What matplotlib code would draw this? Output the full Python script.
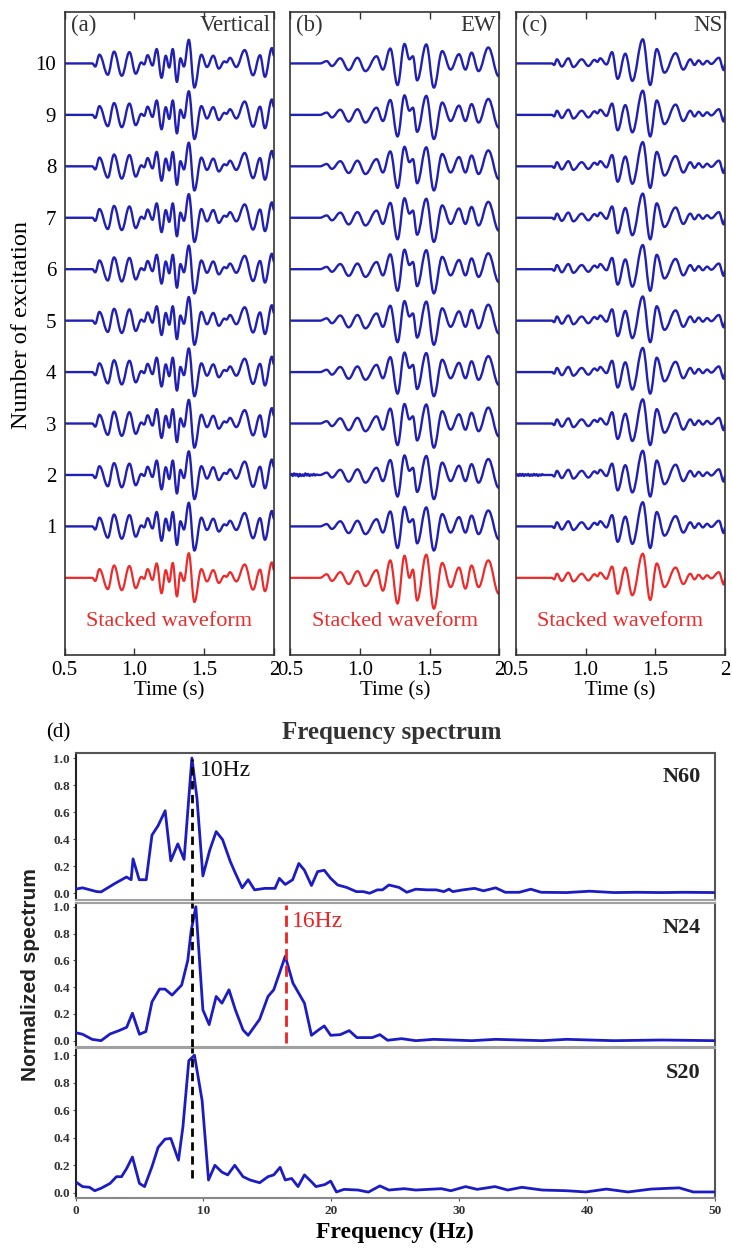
import matplotlib
matplotlib.use("Agg")
import matplotlib.pyplot as plt
from matplotlib.path import Path
from matplotlib.patches import PathPatch

SERIF = ['Liberation Serif', 'DejaVu Serif']
SANS = ['Liberation Sans', 'DejaVu Sans']

# ---------------- waveform data (extrema: time s, amplitude) ----------------
EXCITATIONS = [1, 2, 3, 4, 5, 6, 7, 8, 9, 10]
COMPONENTS = ['Vertical', 'EW', 'NS']
PANEL_TAGS = ['(a)', '(b)', '(c)']

VERT_T = [0.50, 0.70, 0.72, 0.75, 0.81, 0.855, 0.91, 0.965, 1.01, 1.05, 1.07, 1.095, 1.13, 1.16,
          1.195, 1.225, 1.25, 1.275, 1.305, 1.33, 1.355, 1.39, 1.43, 1.48, 1.52, 1.565, 1.605,
          1.645, 1.66, 1.685, 1.73, 1.79, 1.85, 1.90, 1.935, 1.985, 2.0]
VERT_A = [0.0, 0.0, -0.06, 0.17, -0.22, 0.23, -0.24, 0.22, -0.20, 0.02, -0.02, 0.16, -0.04, 0.28,
          -0.28, 0.15, -0.08, 0.28, -0.36, 0.10, -0.06, 0.46, -0.47, 0.17, -0.07, 0.15, -0.10,
          0.04, 0.02, 0.11, -0.07, 0.26, -0.23, 0.16, -0.26, 0.30, 0.15]
VERT_STACK_A = [0.0, 0.0, -0.06, 0.17, -0.22, 0.24, -0.24, 0.23, -0.20, 0.02, -0.02, 0.17, -0.04, 0.28,
                -0.30, 0.15, -0.08, 0.29, -0.36, 0.10, -0.06, 0.48, -0.47, 0.17, -0.07, 0.15, -0.10,
                0.04, 0.02, 0.11, -0.07, 0.26, -0.23, 0.16, -0.26, 0.30, 0.15]

EW_T = [0.50, 0.715, 0.763, 0.80, 0.86, 0.92, 0.983, 1.04, 1.12, 1.165, 1.218, 1.27, 1.32, 1.355,
        1.38, 1.41, 1.476, 1.53, 1.59, 1.65, 1.71, 1.756, 1.80, 1.85, 1.92, 1.995, 2.0]
EW_A = [0.0, 0.0, 0.045, -0.05, 0.10, -0.13, 0.11, -0.15, 0.14, -0.12, 0.29, -0.42, 0.38, 0.08,
        0.14, -0.33, 0.37, -0.47, 0.24, -0.12, 0.18, -0.12, 0.21, -0.15, 0.31, -0.25, -0.22]
EW_STACK_A = [0.0, 0.0, 0.07, -0.06, 0.11, -0.12, 0.13, -0.16, 0.15, -0.25, 0.34, -0.50, 0.43, 0.0,
              0.16, -0.44, 0.45, -0.60, 0.29, -0.18, 0.20, -0.21, 0.24, -0.18, 0.34, -0.31, -0.28]

NS_T = [0.50, 0.76, 0.775, 0.795, 0.83, 0.877, 0.913, 0.973, 1.02, 1.065, 1.085, 1.105, 1.15, 1.19,
        1.23, 1.285, 1.335, 1.41, 1.463, 1.51, 1.565, 1.645, 1.70, 1.75, 1.78, 1.81, 1.84, 1.87,
        1.90, 1.955, 1.99, 2.0]
NS_A = [0.0, 0.0, -0.03, 0.08, -0.06, 0.10, -0.07, 0.08, -0.05, 0.07, 0.03, 0.10, -0.02, 0.22,
        -0.30, 0.19, -0.34, 0.47, -0.42, 0.28, -0.18, 0.20, -0.12, 0.08, -0.03, 0.06, -0.02, 0.05,
        -0.01, 0.11, -0.13, -0.02]
NS_STACK_A = [0.0, 0.0, -0.03, 0.08, -0.06, 0.10, -0.07, 0.08, -0.05, 0.07, 0.03, 0.10, -0.02, 0.22,
              -0.31, 0.20, -0.34, 0.47, -0.43, 0.28, -0.18, 0.20, -0.12, 0.08, -0.03, 0.06, -0.02, 0.05,
              -0.01, 0.11, -0.13, -0.02]

# pre-event noise seen on excitation 2 (EW and NS)
NOISE_T = [0.50, 0.51, 0.52, 0.53, 0.54, 0.55, 0.56, 0.57, 0.58, 0.59, 0.60, 0.61, 0.62, 0.63,
           0.64, 0.65, 0.66, 0.67, 0.68, 0.69, 0.70]
NOISE_EW = [0.0, 0.02, -0.02, 0.03, -0.01, 0.02, -0.03, 0.02, -0.02, 0.01, -0.02, 0.03, -0.01,
            0.02, -0.02, 0.01, -0.01, 0.02, -0.01, 0.01, 0.0]
NOISE_NS = [0.0, 0.015, -0.02, 0.02, -0.015, 0.02, -0.02, 0.015, -0.01, 0.02, -0.02, 0.01, -0.015,
            0.02, -0.01, 0.015, -0.02, 0.01, -0.01, 0.015, 0.0]

TIME_TICKS = [0.5, 1.0, 1.5, 2.0]
TIME_TICK_LABELS = ['0.5', '1.0', '1.5', '2']

# ---------------- spectrum data ----------------
N60_F = [0, 0.55, 1.66, 2.0, 3.13, 3.61, 3.98, 4.35, 4.5, 4.98, 5.53, 5.98, 6.46, 7.01, 7.45, 8.0,
         8.49, 9.1, 9.5, 9.96, 10.5, 11.0, 11.5, 12.1, 12.5, 13.03, 13.5, 14.0, 14.8, 15.6, 15.94,
         16.4, 16.98, 17.46, 17.9, 18.45, 18.93, 19.45, 19.95, 20.5, 21.2, 21.96, 22.5, 23.0,
         23.6, 24.0, 24.5, 25.3, 25.9, 26.6, 27.5, 28.2, 28.8, 29.2, 29.5, 30.3, 31.2, 31.9,
         32.85, 33.6, 34.7, 35.6, 36.4, 38.4, 40.2, 42.1, 43.9, 45.8, 47.6, 50]
N60_V = [0.03, 0.04, 0.012, 0.01, 0.075, 0.10, 0.12, 0.10, 0.254, 0.10, 0.10, 0.43, 0.50, 0.61,
         0.24, 0.365, 0.25, 1.0, 0.70, 0.128, 0.32, 0.456, 0.396, 0.235, 0.148, 0.04, 0.10, 0.025,
         0.036, 0.036, 0.11, 0.065, 0.10, 0.22, 0.17, 0.057, 0.16, 0.17, 0.11, 0.061, 0.043, 0.012,
         0.012, 0.0, 0.025, 0.025, 0.061, 0.043, 0.007, 0.03, 0.025, 0.025, 0.012, 0.03, 0.012,
         0.025, 0.036, 0.018, 0.04, 0.007, 0.007, 0.03, 0.007, 0.005, 0.015, 0.005, 0.007, 0.005,
         0.007, 0.005]

N24_F = [0, 0.55, 1.3, 2.0, 2.7, 3.4, 4.0, 4.45, 5.0, 5.5, 5.98, 6.57, 7.0, 7.55, 8.3, 8.78, 9.04,
         9.41, 9.96, 10.45, 11.0, 11.45, 12.0, 12.5, 13.1, 13.5, 14.4, 15.05, 15.5, 16.4, 17.0,
         17.9, 18.45, 19.0, 19.45, 19.95, 20.7, 21.4, 22.0, 23.2, 23.8, 24.4, 25.5, 26.6, 28.0,
         29.5, 31.0, 32.85, 34.7, 36.5, 38.4, 40.2, 42.1, 45.8, 50]
N24_V = [0.06, 0.048, 0.01, 0.0, 0.05, 0.075, 0.10, 0.205, 0.048, 0.068, 0.29, 0.385, 0.385, 0.34,
         0.415, 0.60, 0.82, 1.0, 0.23, 0.12, 0.33, 0.28, 0.38, 0.23, 0.08, 0.04, 0.16, 0.33, 0.38,
         0.63, 0.43, 0.28, 0.04, 0.08, 0.11, 0.04, 0.045, 0.075, 0.023, 0.023, 0.045, 0.003, 0.015,
         0.0, 0.01, 0.005, 0.0, 0.01, 0.005, 0.0, 0.01, 0.005, 0.0, 0.005, 0.0]

S20_F = [0, 0.55, 1.1, 1.5, 2.0, 2.7, 3.2, 3.6, 4.0, 4.45, 5.0, 5.4, 5.98, 6.46, 7.0, 7.45, 8.05,
         8.4, 8.86, 9.3, 9.9, 10.4, 10.9, 11.45, 11.9, 12.45, 13.1, 13.65, 14.4, 15.05, 15.5, 16.0,
         16.4, 16.9, 17.4, 17.9, 18.45, 18.8, 19.5, 19.95, 20.4, 21.0, 22.1, 22.9, 23.8, 24.5,
         25.7, 26.6, 28.6, 29.35, 30.5, 31.4, 32.8, 33.8, 34.9, 36.5, 38.4, 39.9, 41.5, 43.2,
         45.0, 47.2, 48.3, 50]
S20_V = [0.08, 0.045, 0.04, 0.015, 0.033, 0.068, 0.117, 0.117, 0.177, 0.26, 0.068, 0.045, 0.19,
         0.33, 0.39, 0.395, 0.237, 0.48, 0.96, 1.0, 0.67, 0.093, 0.20, 0.15, 0.13, 0.20, 0.117,
         0.093, 0.073, 0.117, 0.13, 0.185, 0.093, 0.104, 0.045, 0.13, 0.08, 0.045, 0.06, 0.085,
         0.006, 0.025, 0.02, 0.005, 0.05, 0.02, 0.03, 0.02, 0.03, 0.015, 0.045, 0.025, 0.045, 0.02,
         0.04, 0.02, 0.015, 0.006, 0.027, 0.006, 0.027, 0.036, 0.006, 0.006]

SPEC_NAMES = ['N60', 'N24', 'S20']
PEAK_MAIN = 9.12      # Hz (marked 10Hz)
PEAK_SECOND = 16.42   # Hz (marked 16Hz)

BLUE = '#2020b4'
RED = '#ee2a2a'

fig = plt.figure(figsize=(7.32, 12.48), dpi=100)
W, H = 732.0, 1248.0


def fx(px):
    return px / W


def fy(py):
    return 1 - py / H


def wave_patch(ts, amps, base, color, lw):
    verts = [(ts[0], base + amps[0])]
    codes = [Path.MOVETO]
    for t0, a0, t1, a1 in zip(ts[:-1], amps[:-1], ts[1:], amps[1:]):
        d = (t1 - t0) * 0.38
        verts += [(t0 + d, base + a0), (t1 - d, base + a1), (t1, base + a1)]
        codes += [Path.CURVE4] * 3
    return PathPatch(Path(verts, codes), fill=False, edgecolor=color, lw=lw,
                     capstyle='round', joinstyle='round')


panel_lefts = [64.5, 290.0, 515.7]
panel_width = 209.5
top_px, bot_px = 12.0, 655.0

series = [(VERT_T, VERT_A, VERT_STACK_A, None),
          (EW_T, EW_A, EW_STACK_A, NOISE_EW),
          (NS_T, NS_A, NS_STACK_A, NOISE_NS)]

for i, (left, comp, tag, (ts, amps, st_amps, noise)) in enumerate(
        zip(panel_lefts, COMPONENTS, PANEL_TAGS, series)):
    ax = fig.add_axes([fx(left), fy(bot_px), panel_width / W, (bot_px - top_px) / H])
    ax.set_xlim(0.5, 2.0)
    ax.set_ylim(-1.5, 11.0)
    for n in EXCITATIONS:
        if n == 2 and noise is not None:
            tt = list(NOISE_T) + [t for t in ts if t > NOISE_T[-1]]
            aa = list(noise) + [a for t, a in zip(ts, amps) if t > NOISE_T[-1]]
        else:
            tt, aa = ts, amps
        ax.add_patch(wave_patch(tt, aa, n, BLUE, 1.7))
    ax.add_patch(wave_patch(ts, st_amps, 0, RED, 1.6))
    ax.set_xticks(TIME_TICKS)
    ax.set_xticklabels(TIME_TICK_LABELS, fontfamily=SERIF, fontsize=15)
    ax.tick_params(axis='x', direction='in', length=5, width=1, top=True, pad=4, color='#333333')
    if i == 0:
        ax.set_yticks(EXCITATIONS)
        ax.set_yticklabels([str(n) for n in EXCITATIONS], fontfamily=SERIF, fontsize=15)
        ax.tick_params(axis='y', length=0, pad=6)
    else:
        ax.set_yticks([])
    for s in ax.spines.values():
        s.set_color('#333333')
        s.set_linewidth(1.2)
    ax.set_xlabel('Time (s)', fontfamily=SERIF, fontsize=15, labelpad=1)
    ax.text(0.03, 0.995, tag, transform=ax.transAxes, ha='left', va='top',
            fontfamily=SERIF, fontsize=16.5, color='#333333')
    ax.text(0.985, 0.995, comp, transform=ax.transAxes, ha='right', va='top',
            fontfamily=SERIF, fontsize=16.5, color='#333333')
    ax.text(1.25, -0.85, 'Stacked waveform', ha='center', va='center',
            fontfamily=SERIF, fontsize=16, color=RED)

fig.text(fx(22), fy(325), 'Number of excitation', rotation=90, ha='center', va='center',
         fontfamily=SERIF, fontsize=17.5)

# ---------------- spectrum panels ----------------
fig.text(fx(58), fy(733), '(d)', ha='center', va='center', fontfamily=SERIF, fontsize=15)
fig.text(fx(392), fy(733), 'Frequency spectrum', ha='center', va='center',
         fontfamily=SERIF, fontsize=18, fontweight='bold', color='#333333')

spec_left, spec_right = 75.5, 715.0
spec_boxes = [(753.0, 900.0, (-0.05, 1.037)),
              (902.7, 1046.7, (-0.045, 1.03)),
              (1048.3, 1198.3, (-0.04, 1.05))]
spec_data = [(N60_F, N60_V), (N24_F, N24_V), (S20_F, S20_V)]
label_v = [0.86, 0.84, 0.87]

for k, ((top, bot, ylim), (f, v), name) in enumerate(zip(spec_boxes, spec_data, SPEC_NAMES)):
    ax = fig.add_axes([fx(spec_left), fy(bot), (spec_right - spec_left) / W, (bot - top) / H])
    ax.plot(f, v, color='#1c1cc4', lw=2.0, solid_joinstyle='round', zorder=3)
    ax.set_xlim(0, 50)
    ax.set_ylim(*ylim)
    ax.set_yticks([0.0, 0.2, 0.4, 0.6, 0.8, 1.0])
    ax.set_yticklabels(['0.0', '0.2', '0.4', '0.6', '0.8', '1.0'], fontfamily=SERIF,
                       fontsize=9.5, fontweight='bold', color='#333333')
    ax.tick_params(axis='y', length=2, width=0.8, pad=2, color='#555555')
    ax.set_xticks([0, 10, 20, 30, 40, 50])
    if k == 2:
        ax.set_xticklabels(['0', '10', '20', '30', '40', '50'], fontfamily=SERIF,
                           fontsize=9.5, fontweight='bold', color='#333333')
        ax.tick_params(axis='x', length=2, width=0.8, pad=3, color='#555555')
        ax.set_xlabel('Frequency (Hz)', fontfamily=SERIF, fontsize=17, fontweight='bold',
                      labelpad=3)
    else:
        ax.set_xticklabels([])
        ax.tick_params(axis='x', length=0)
    ax.spines['left'].set_color('#222222')
    ax.spines['left'].set_linewidth(1.5)
    ax.spines['right'].set_color('#555555')
    ax.spines['right'].set_linewidth(1.5)
    ax.spines['top'].set_color('#555555' if k == 0 else '#a0a0a0')
    ax.spines['top'].set_linewidth(1.5)
    ax.spines['bottom'].set_color('#a0a0a0' if k < 2 else '#888888')
    ax.spines['bottom'].set_linewidth(1.5)
    ax.text(48.9, label_v[k], name, ha='right', va='center', fontfamily=SERIF,
            fontsize=16, fontweight='bold', color='#222222')
    if k == 0:
        ax.plot([PEAK_MAIN, PEAK_MAIN], [ylim[0], 0.99], ls=(0, (3, 2)), color='black',
                lw=2, clip_on=False, zorder=4)
        ax.text(9.74, 0.906, '10Hz', ha='left', va='center', fontfamily=SERIF,
                fontsize=17, color='#111111')
    elif k == 1:
        ax.plot([PEAK_MAIN, PEAK_MAIN], [ylim[0], ylim[1]], ls=(0, (3, 2)), color='black',
                lw=2, clip_on=False, zorder=4)
        ax.plot([PEAK_SECOND, PEAK_SECOND], [-0.02, 1.015], ls=(0, (4, 2)), color='#ee2222',
                lw=2, clip_on=False, zorder=4)
        ax.text(16.9, 0.89, '16Hz', ha='left', va='center', fontfamily=SERIF,
                fontsize=17, color='#ee2222')
    else:
        ax.plot([PEAK_MAIN, PEAK_MAIN], [0.107, ylim[1]], ls=(0, (3, 2)), color='black',
                lw=2, clip_on=False, zorder=4)

fig.text(fx(31), fy(975), 'Normalized spectrum', rotation=90, ha='center', va='center',
         fontfamily=SANS, fontsize=15, fontweight='bold', color='#222222')

fig.savefig('out.png', dpi=100)
